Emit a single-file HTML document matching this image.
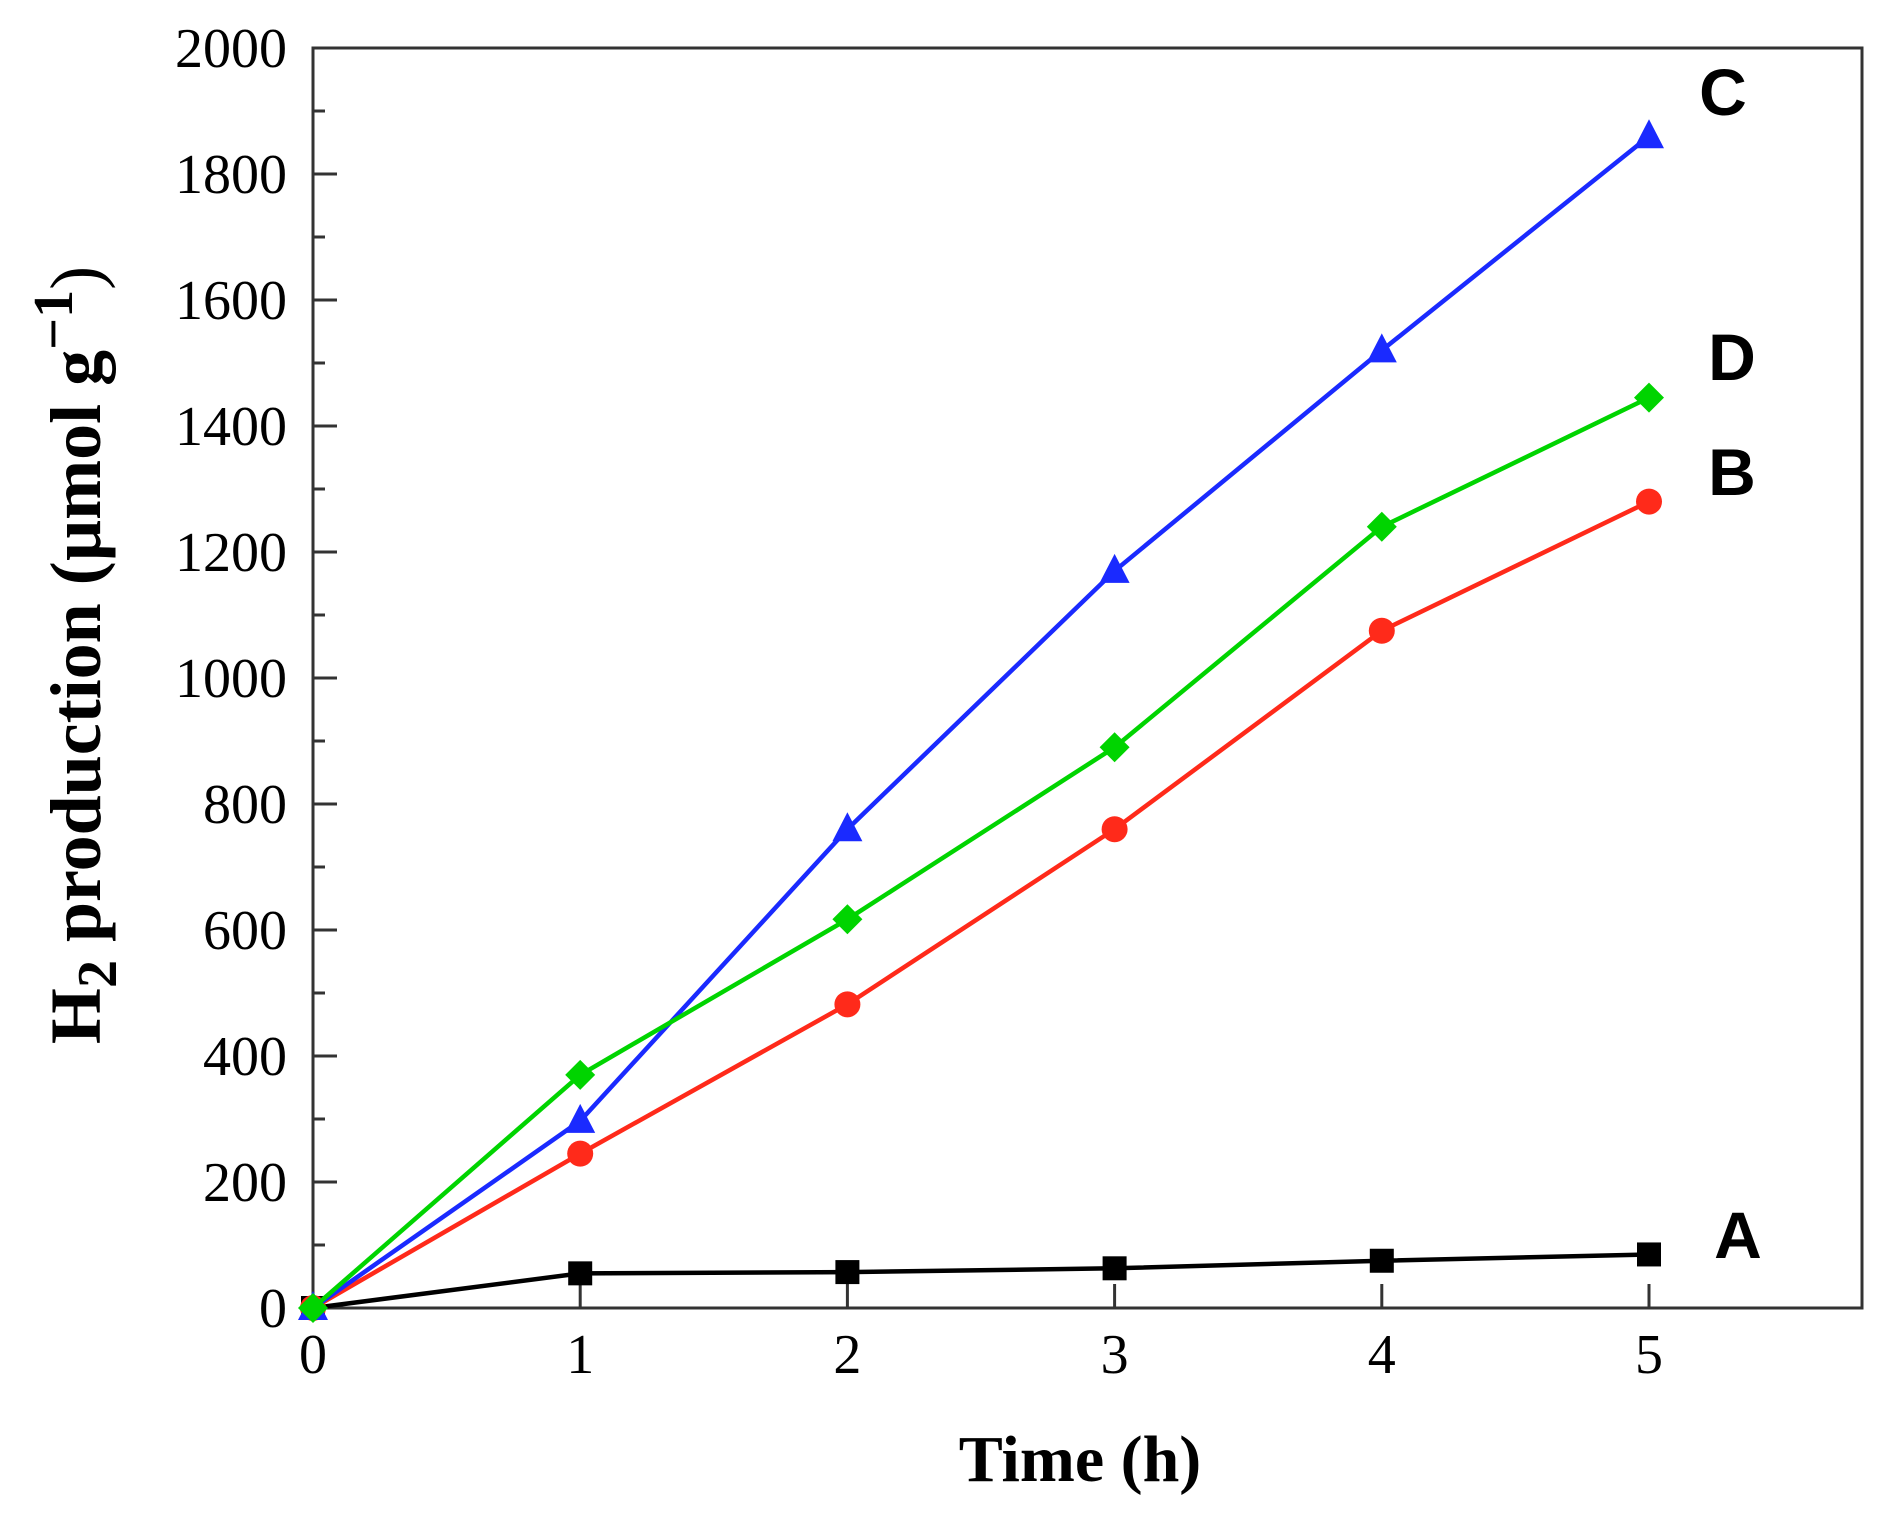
<!DOCTYPE html>
<html><head><meta charset="utf-8"><style>body{margin:0;background:#fff}svg{display:block}</style></head>
<body>
<svg width="1884" height="1513" viewBox="0 0 1884 1513" xmlns="http://www.w3.org/2000/svg">
<rect x="313" y="48" width="1549" height="1260" fill="none" stroke="#333" stroke-width="3"/>
<g stroke="#333" stroke-width="3" id="ticks"></g>
<g font-family="Liberation Serif, serif" font-size="56" fill="#000" text-anchor="end" id="yl"></g>
<g font-family="Liberation Serif, serif" font-size="56" fill="#000" text-anchor="middle" id="xl"></g>
<g id="series"></g>
<g font-family="Liberation Sans, sans-serif" font-weight="bold" font-size="66" fill="#000" text-anchor="middle">
<text x="1723" y="115">C</text><text x="1732" y="380">D</text><text x="1732" y="495">B</text><text x="1738" y="1258">A</text>
</g>
<text x="1080" y="1481" font-family="Liberation Serif, serif" font-weight="bold" font-size="66" text-anchor="middle">Time (h)</text>
<text transform="translate(100,655) rotate(-90)" text-anchor="middle" font-family="Liberation Serif, serif" font-weight="bold" font-size="72">H<tspan font-size="56" dy="16">2</tspan><tspan dy="-16">  production (µmol g</tspan><tspan font-size="56" dy="-28">−1</tspan><tspan dy="28" font-weight="normal">)</tspan></text>
<script>
var ns="http://www.w3.org/2000/svg";
function X(t){return 313+t*267.2}function Y(v){return 1308-v*0.63}
function el(p,n,a,txt){var e=document.createElementNS(ns,n);for(var k in a)e.setAttribute(k,a[k]);if(txt!=null)e.textContent=txt;document.getElementById(p).appendChild(e);return e}
for(var v=0;v<=2000;v+=100){var L=v%200==0?24:12;el('ticks','line',{x1:313,x2:313+L,y1:Y(v),y2:Y(v)});if(v%200==0)el('yl','text',{x:287,y:Y(v)+19},v)}
for(var t=0;t<=5;t++){el('ticks','line',{x1:X(t),x2:X(t),y1:1308,y2:1284});el('xl','text',{x:X(t),y:1373},t)}
var S=[["#000",[0,55,57,63,75,85],"sq"],["#ff2a1a",[0,245,482,760,1075,1280],"ci"],["#1a2aff",[0,297,760,1170,1520,1860],"tr"],["#00d400",[0,370,617,890,1240,1445],"di"]];
S.forEach(function(s){var pts=s[1].map(function(v,i){return X(i)+","+Y(v)}).join(" ");
el('series','polyline',{points:pts,fill:"none",stroke:s[0],"stroke-width":4.5});
s[1].forEach(function(v,i){var x=X(i),y=Y(v);
if(s[2]=="sq")el('series','rect',{x:x-12,y:y-12,width:24,height:24,fill:s[0]});
if(s[2]=="ci")el('series','circle',{cx:x,cy:y,r:13,fill:s[0]});
if(s[2]=="di")el('series','polygon',{points:(x)+","+(y-15)+" "+(x+15)+","+y+" "+x+","+(y+15)+" "+(x-15)+","+y,fill:s[0]});
if(s[2]=="tr")el('series','polygon',{points:x+","+(y-17)+" "+(x+15)+","+(y+12)+" "+(x-15)+","+(y+12),fill:s[0]});});});
</script>
</svg>
</body></html>
